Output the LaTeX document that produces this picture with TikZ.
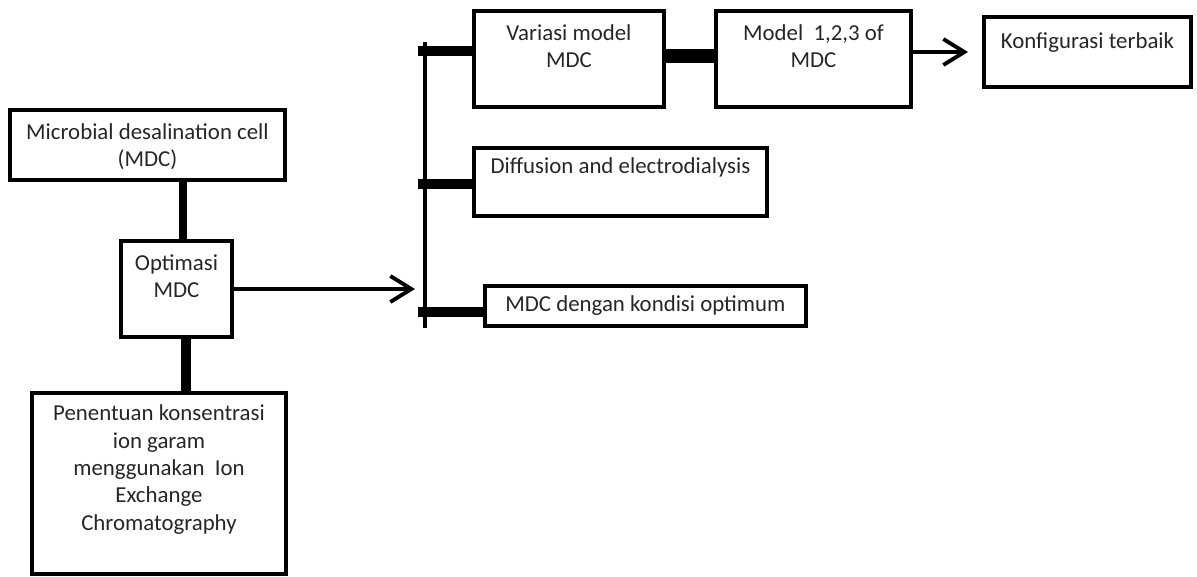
\documentclass[tikz,border=0pt]{standalone}
\usepackage{fontspec}
\setmainfont{Carlito}
\usetikzlibrary{arrows.meta}
\usetikzlibrary{positioning}

\begin{document}
\begin{tikzpicture}[line join=miter,>={Straight Barb[length=0.42cm,width=0.52cm]},x=0.02cm,y=-0.02cm,
  box/.style={draw,line width=2.2pt,inner sep=0pt,outer sep=0pt,anchor=north west},
  txt/.style={anchor=north,align=center,inner sep=0.26cm,text=black!85,font=\fontsize{13}{15.6}\selectfont},
  bar/.style={line width=0.2cm},
  link/.style={line width=2.2pt}]
\useasboundingbox (0,0) rectangle (1197,576);
% left column
\node[box,minimum width=5.5cm,minimum height=1.4cm,label={[txt]north:{Microbial desalination cell\\(MDC)}}] (mdc) at (10,110) {};
\node[box,minimum width=2.22cm,minimum height=1.92cm,label={[txt]north:{Optimasi\\MDC}}] (opt) at (121,241) {};
\node[box,minimum width=5.08cm,minimum height=3.62cm,label={[txt,inner sep=0.23cm]north:{Penentuan konsentrasi\\ion garam\\menggunakan~ Ion\\Exchange\\Chromatography}}] (pen) at (32,393) {};
% right column
\node[box,minimum width=3.8cm,minimum height=1.92cm,label={[txt]north:{Variasi model\\MDC}}] (var) at (474,11) {};
\node[box,minimum width=3.9cm,minimum height=1.92cm,label={[txt]north:{Model~ 1,2,3 of\\MDC}}] (mod) at (716,11) {};
\node[box,minimum width=4.14cm,minimum height=1.4cm,label={[txt,inner sep=0.3cm]north:{Konfigurasi terbaik}}] (konf) at (984,17) {};
\node[box,minimum width=5.86cm,minimum height=1.36cm,label={[txt,inner sep=0.19cm]north:{Diffusion and electrodialysis}}] (dif) at (474,148) {};
\node[box,minimum width=6.42cm,minimum height=0.8cm,label={[txt,inner sep=0.19cm]north:{MDC dengan kondisi optimum}}] (mdco) at (485,286) {};
% bus
\coordinate (bustop) at (425,42);
\coordinate (busbot) at (425,328);
\coordinate (optin) at (415,289);
\coordinate (j1) at (418,51);
\coordinate (j2) at (418,184);
\coordinate (j3) at (418,312);
\draw [link] (bustop) -- (busbot);
\draw [link,->] (opt.east) -- (opt.east -| optin);
\draw [bar] (j1) -- (j1 -| var.west);
\draw [bar] (j2) -- (j2 -| dif.west);
\draw [bar] (j3) -- (j3 -| mdco.west);
% links between boxes
\draw [bar,line width=0.16cm] ([xshift=0.14cm]opt.north) -- ([xshift=0.14cm]opt.north |- mdc.south);
\draw [bar] ([xshift=0.19cm]opt.south) -- ([xshift=0.19cm]opt.south |- pen.north);
\draw [bar,line width=0.28cm] ([yshift=0.06cm]var.east) -- ([yshift=0.06cm]mod.west);
\draw [link,->,shorten >=0.32cm] (mod.east |- konf.west) -- (konf.west);
\end{tikzpicture}
\end{document}
